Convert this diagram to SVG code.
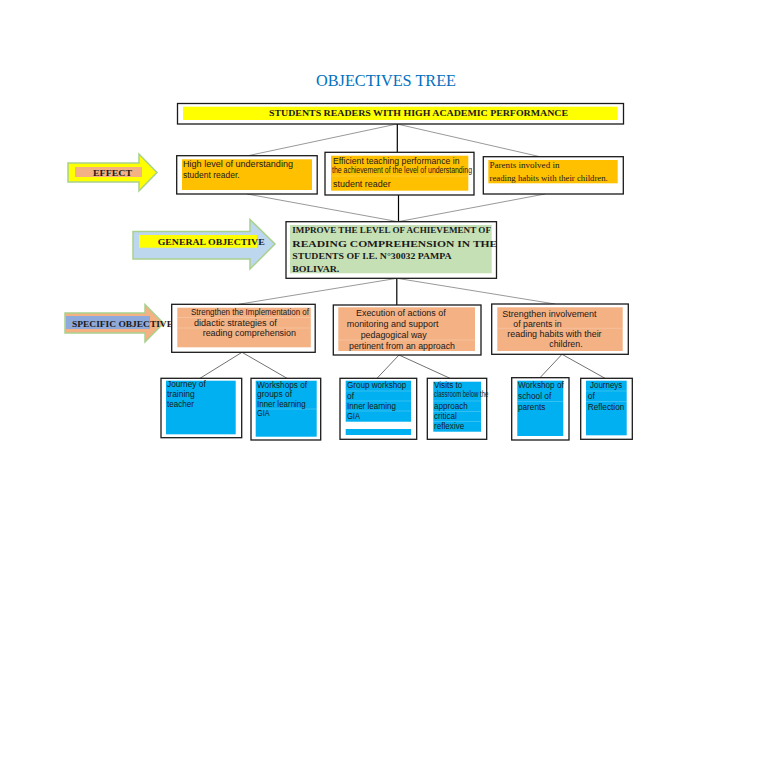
<svg xmlns="http://www.w3.org/2000/svg" width="768" height="762" viewBox="0 0 768 762">
<style>
.box{fill:#fff;stroke:#1a1a1a;stroke-width:1.3}
.yel{fill:#FFFF00}.org{fill:#FFC000}.sal{fill:#F4B183}.blu{fill:#00B0F0}.grn{fill:#C5E0B4}
.sans{font-family:"Liberation Sans",Arial,sans-serif;font-size:8.5px;fill:#1a1a1a}
.serif{font-family:"Liberation Serif","Times New Roman",serif;font-size:9px;fill:#1a1a1a}
.b{font-weight:bold}
.gl{stroke:#7f7f7f;stroke-width:0.8;fill:none}
.dl{stroke:#4d4d4d;stroke-width:0.8;fill:none}
.vl{stroke:#000;stroke-width:1.2;fill:none}
.arr{stroke:#A9D18E;stroke-width:1.5}
.sep{stroke:#fff;stroke-opacity:0.35;stroke-width:0.6}
</style>
<rect width="768" height="762" fill="#fff"/>
<text x="386" y="85.5" text-anchor="middle" font-family="Liberation Serif,'Times New Roman',serif" font-size="16" fill="#0070C0" textLength="140" lengthAdjust="spacingAndGlyphs">OBJECTIVES TREE</text>

<g id="connectors">
<line class="gl" x1="397" y1="124" x2="248" y2="155.7"/>
<line class="gl" x1="397" y1="124" x2="540" y2="156.7"/>
<line class="vl" x1="397.3" y1="124" x2="397.3" y2="152.3"/>
<line class="gl" x1="247" y1="194" x2="398" y2="221.7"/>
<line class="gl" x1="545" y1="194" x2="398" y2="221.7"/>
<line class="vl" x1="398.5" y1="195" x2="398.5" y2="221.7"/>
<line class="gl" x1="397" y1="278.3" x2="238.5" y2="304.3"/>
<line class="gl" x1="397" y1="278.3" x2="555" y2="304"/>
<line class="vl" x1="396.8" y1="278.3" x2="396.8" y2="305"/>
<line class="dl" x1="242" y1="352.3" x2="200" y2="378.3"/>
<line class="dl" x1="242" y1="352.3" x2="287" y2="378.3"/>
<line class="dl" x1="399" y1="355" x2="377" y2="378.3"/>
<line class="dl" x1="399" y1="355" x2="450" y2="378.3"/>
<line class="dl" x1="562" y1="354.3" x2="540" y2="377.7"/>
<line class="dl" x1="562" y1="354.3" x2="605" y2="378.3"/>
</g>

<g id="effect-label">
<polygon class="arr" fill="#FFFF00" points="68,163 139,163 139,154 157,172.5 139,191 139,182 68,182"/>
<rect class="sal" x="75" y="167" width="67" height="10"/>
<text class="serif b" x="93" y="176" textLength="39" lengthAdjust="spacingAndGlyphs">EFFECT</text>
</g>
<g id="general-label">
<polygon class="arr" fill="#BDD7EE" points="133,231.5 250,231.5 250,219.5 275,244 250,269 250,259 133,259"/>
<rect class="yel" x="139" y="235" width="118" height="12.7"/>
<text class="serif b" x="157.7" y="245" font-size="9.5" textLength="107" lengthAdjust="spacingAndGlyphs">GENERAL OBJECTIVE</text>
</g>
<g id="specific-label">
<polygon class="arr" fill="#F4B183" points="65,313 145,313 145,304.5 163.5,323.3 145,342 145,333 65,333"/>
<rect x="66" y="316" width="84" height="13" fill="#8EA9DB"/>
<text class="serif b" x="72" y="326.5" font-size="9.5" fill="#1a2040" textLength="101" lengthAdjust="spacingAndGlyphs">SPECIFIC OBJECTIVE</text>
</g>

<g id="top">
<rect class="box" x="177.5" y="103.5" width="446" height="20.5"/>
<rect class="yel" x="183" y="106.7" width="434.7" height="13.3"/>
<text class="serif b" x="269" y="116.3" textLength="299" lengthAdjust="spacingAndGlyphs">STUDENTS READERS WITH HIGH ACADEMIC PERFORMANCE</text>
</g>

<g id="effect1">
<rect class="box" x="176.7" y="155.7" width="140.5" height="38.3"/>
<rect class="org" x="182" y="159.3" width="130" height="30.7"/>
<text class="sans" x="183" y="167" textLength="110" lengthAdjust="spacingAndGlyphs">High level of understanding</text>
<text class="sans" x="183" y="178">student reader.</text>
</g>
<g id="effect2">
<rect class="box" x="325" y="152.3" width="149" height="42.7"/>
<rect class="org" x="331" y="155.7" width="137.3" height="35"/>
<line class="sep" x1="331" y1="176" x2="468" y2="176"/>
<text class="sans" x="333" y="164" textLength="126.6" lengthAdjust="spacingAndGlyphs">Efficient teaching performance in</text>
<text class="sans" x="332" y="173" font-size="5.6" textLength="140" lengthAdjust="spacingAndGlyphs">the achievement of the level of understanding</text>
<text class="sans" x="333" y="186.5" textLength="57.7" lengthAdjust="spacingAndGlyphs">student reader</text>
</g>
<g id="effect3">
<rect class="box" x="483.3" y="156.7" width="140" height="37.3"/>
<rect class="org" x="488.3" y="160" width="129.4" height="23.3"/>
<text class="serif" x="489.5" y="168.3" fill="#333" textLength="70" lengthAdjust="spacingAndGlyphs">Parents involved in</text>
<text class="serif" x="489.5" y="181.3" fill="#333" textLength="118.3" lengthAdjust="spacingAndGlyphs">reading habits with their children.</text>
</g>

<g id="general">
<rect class="box" x="286" y="221.7" width="210.5" height="56.6"/>
<rect class="grn" x="290" y="225" width="201.7" height="48.3"/>
<text class="serif b" x="292.3" y="233" font-size="8" textLength="198.7" lengthAdjust="spacingAndGlyphs">IMPROVE THE LEVEL OF ACHIEVEMENT OF</text>
<text class="serif b" x="292.3" y="247" font-size="10.5" textLength="205" lengthAdjust="spacingAndGlyphs">READING COMPREHENSION IN THE</text>
<text class="serif b" x="292.3" y="259.3" font-size="10" textLength="159.4" lengthAdjust="spacingAndGlyphs">STUDENTS OF I.E. N°30032 PAMPA</text>
<text class="serif b" x="292.3" y="271.8" font-size="10" textLength="47" lengthAdjust="spacingAndGlyphs">BOLIVAR.</text>
</g>

<g id="specific1">
<rect class="box" x="171.7" y="304.3" width="143.5" height="48"/>
<rect class="sal" x="177.3" y="307.7" width="133.5" height="39.6"/>
<line class="sep" x1="177.3" y1="317.5" x2="310.8" y2="317.5"/>
<line class="sep" x1="177.3" y1="328" x2="310.8" y2="328"/>
<text class="sans" x="191" y="314.7" textLength="118" lengthAdjust="spacingAndGlyphs">Strengthen the Implementation of</text>
<text class="sans" x="194" y="326" textLength="82.7" lengthAdjust="spacingAndGlyphs">didactic strategies of</text>
<text class="sans" x="202.7" y="336" textLength="93.3" lengthAdjust="spacingAndGlyphs">reading comprehension</text>
</g>
<g id="specific2">
<rect class="box" x="333.3" y="305" width="147.7" height="50"/>
<rect class="sal" x="338.3" y="307.3" width="136.7" height="43.7"/>
<line class="sep" x1="338.3" y1="340" x2="475" y2="340"/>
<text class="sans" x="356" y="316" textLength="89.7" lengthAdjust="spacingAndGlyphs">Execution of actions of</text>
<text class="sans" x="346.7" y="327" textLength="91.7" lengthAdjust="spacingAndGlyphs">monitoring and support</text>
<text class="sans" x="360.7" y="338" textLength="66" lengthAdjust="spacingAndGlyphs">pedagogical way</text>
<text class="sans" x="349" y="349" textLength="106" lengthAdjust="spacingAndGlyphs">pertinent from an approach</text>
</g>
<g id="specific3">
<rect class="box" x="491.7" y="304" width="136.6" height="50.3"/>
<rect class="sal" x="497.3" y="307.3" width="125.4" height="43.7"/>
<line class="sep" x1="497.3" y1="328.3" x2="622.7" y2="328.3"/>
<text class="sans" x="502.3" y="316.5" textLength="94.3" lengthAdjust="spacingAndGlyphs">Strengthen involvement</text>
<text class="sans" x="513.3" y="326.5" textLength="48.3" lengthAdjust="spacingAndGlyphs">of parents in</text>
<text class="sans" x="507.3" y="336.5" textLength="94.3" lengthAdjust="spacingAndGlyphs">reading habits with their</text>
<text class="sans" x="549.3" y="346.5" textLength="33.3" lengthAdjust="spacingAndGlyphs">children.</text>
</g>

<g id="activity1">
<rect class="box" x="161" y="378.3" width="80.7" height="59.4"/>
<rect class="blu" x="166" y="380.7" width="69.7" height="53.6"/>
<text class="sans" x="167" y="387" textLength="38.7" lengthAdjust="spacingAndGlyphs">Journey of</text>
<text class="sans" x="167" y="397" textLength="27.7" lengthAdjust="spacingAndGlyphs">training</text>
<text class="sans" x="167" y="407" textLength="27" lengthAdjust="spacingAndGlyphs">teacher</text>
</g>
<g id="activity2">
<rect class="box" x="251" y="378.3" width="69.7" height="61.7"/>
<rect class="blu" x="255.7" y="380.7" width="61" height="56"/>
<line class="sep" x1="255.7" y1="409" x2="316.7" y2="409"/>
<text class="sans" x="257" y="388" textLength="50" lengthAdjust="spacingAndGlyphs">Workshops of</text>
<text class="sans" x="257" y="397.3" textLength="35" lengthAdjust="spacingAndGlyphs">groups of</text>
<text class="sans" x="257" y="407" textLength="48.7" lengthAdjust="spacingAndGlyphs">Inner learning</text>
<text class="sans" x="257" y="416.3" textLength="12.5" lengthAdjust="spacingAndGlyphs">GIA</text>
</g>
<g id="activity3">
<rect class="box" x="340" y="378.3" width="76.7" height="61"/>
<rect class="blu" x="345.7" y="380.7" width="65.3" height="41"/>
<rect class="blu" x="345.7" y="429" width="65.3" height="6"/>
<line class="sep" x1="345.7" y1="391" x2="411" y2="391"/>
<line class="sep" x1="345.7" y1="401" x2="411" y2="401"/>
<line class="sep" x1="345.7" y1="411" x2="411" y2="411"/>
<text class="sans" x="347" y="388" textLength="59.3" lengthAdjust="spacingAndGlyphs">Group workshop</text>
<text class="sans" x="347" y="399">of</text>
<text class="sans" x="347" y="409" textLength="49" lengthAdjust="spacingAndGlyphs">Inner learning</text>
<text class="sans" x="347" y="419" textLength="13" lengthAdjust="spacingAndGlyphs">GIA</text>
</g>
<g id="activity4">
<rect class="box" x="427.3" y="378.3" width="59.4" height="61"/>
<rect class="blu" x="433.3" y="381.7" width="47.7" height="50"/>
<line class="sep" x1="433.3" y1="401" x2="481" y2="401"/>
<line class="sep" x1="433.3" y1="411.5" x2="481" y2="411.5"/>
<line class="sep" x1="433.3" y1="421.5" x2="481" y2="421.5"/>
<text class="sans" x="434" y="388.2" textLength="28.3" lengthAdjust="spacingAndGlyphs">Visits to</text>
<text class="sans" x="434" y="397.3" font-size="4.8" fill="#333" textLength="54.3" lengthAdjust="spacingAndGlyphs">classroom below the</text>
<text class="sans" x="434" y="409" textLength="33.7" lengthAdjust="spacingAndGlyphs">approach</text>
<text class="sans" x="434" y="419" textLength="22.7" lengthAdjust="spacingAndGlyphs">critical</text>
<text class="sans" x="434" y="429" textLength="30.3" lengthAdjust="spacingAndGlyphs">reflexive</text>
</g>
<g id="activity5">
<rect class="box" x="511.7" y="377.7" width="57.3" height="62.3"/>
<rect class="blu" x="517.3" y="380.7" width="46" height="55.3"/>
<line class="sep" x1="517.3" y1="401.5" x2="563.3" y2="401.5"/>
<text class="sans" x="518" y="388" textLength="45.7" lengthAdjust="spacingAndGlyphs">Workshop of</text>
<text class="sans" x="518" y="399" textLength="33.3" lengthAdjust="spacingAndGlyphs">school of</text>
<text class="sans" x="518" y="409.7" textLength="27.3" lengthAdjust="spacingAndGlyphs">parents</text>
</g>
<g id="activity6">
<rect class="box" x="580.7" y="378.3" width="51.6" height="61"/>
<rect class="blu" x="586" y="380.7" width="40.7" height="54.6"/>
<line class="sep" x1="586" y1="391" x2="626.7" y2="391"/>
<line class="sep" x1="586" y1="401.5" x2="626.7" y2="401.5"/>
<text class="sans" x="590" y="388" textLength="32.3" lengthAdjust="spacingAndGlyphs">Journeys</text>
<text class="sans" x="587.7" y="399">of</text>
<text class="sans" x="587.7" y="409.7" textLength="36.7" lengthAdjust="spacingAndGlyphs">Reflection</text>
</g>
</svg>
